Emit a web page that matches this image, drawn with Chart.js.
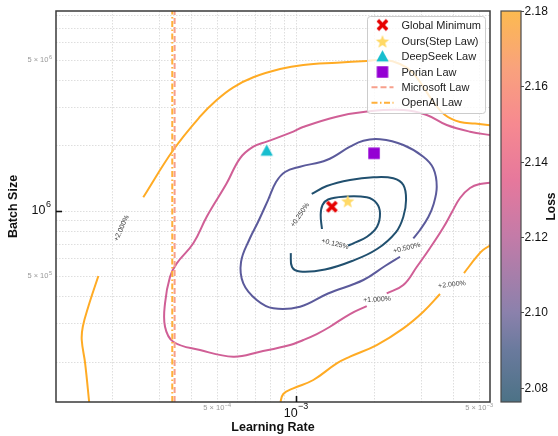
<!DOCTYPE html>
<html>
<head>
<meta charset="utf-8">
<script src="https://cdn.jsdelivr.net/npm/chart.js@4.4.1/dist/chart.umd.min.js"></script>
<style>
  html, body { margin: 0; padding: 0; background: #fff; }
  #wrap { width: 558px; height: 436px; }
</style>
</head>
<body>
<div id="wrap"><canvas id="chart" width="558" height="436"></canvas></div>
<script>
// ---------- axis ranges ----------
const lrRange = [1.213e-4, 5.5e-3];
const bsRange = [1.306e5, 8.43e6];
const lossRange = [2.0762, 2.18];
const lossTicks = [2.08, 2.10, 2.12, 2.14, 2.16, 2.18];

// ---------- tick labels ----------
const lrMajorTicks = [{ value: 1e-3, base: '10', exp: '−3' }];
const lrMinorTicks = [{ value: 5e-4, base: '5 × 10', exp: '−4' }, { value: 5e-3, base: '5 × 10', exp: '−3' }];
const bsMajorTicks = [{ value: 1e6, base: '10', exp: '6' }];
const bsMinorTicks = [{ value: 5e5, base: '5 × 10', exp: '5' }, { value: 5e6, base: '5 × 10', exp: '6' }];

// ---------- iso-loss contours: [learning rate, batch size] ----------
const contour0125 = [[1.256e-3,8.254e5],[1.242e-3,9.583e5],[1.262e-3,1.066e6],[1.325e-3,1.13e6],[1.515e-3,1.165e6],[1.862e-3,1.157e6],[2.032e-3,1.086e6],[2.092e-3,9.758e5],[2.038e-3,8.458e5],[1.866e-3,7.603e5],[1.655e-3,7.087e5],[1.58e-3,6.92e5]];
const contour0250 = [[1.148e-3,1.199e6],[1.31e-3,1.305e6],[1.607e-3,1.392e6],[1.972e-3,1.432e6],[2.351e-3,1.417e6],[2.568e-3,1.319e6],[2.63e-3,1.124e6],[2.568e-3,9.41e5],[2.408e-3,7.994e5],[2.038e-3,6.669e5],[1.636e-3,5.868e5],[1.29e-3,5.36e5],[1.036e-3,5.247e5],[9.654e-4,5.505e5],[9.546e-4,6.389e5]];
const contour0500 = [[2.803e-3,7.473e5],[2.973e-3,8.166e5],[3.199e-3,9.38e5],[3.342e-3,1.066e6],[3.444e-3,1.296e6],[3.342e-3,1.576e6],[3.061e-3,1.784e6],[2.568e-3,2.021e6],[2.092e-3,2.147e6],[1.807e-3,2.116e6],[1.607e-3,1.985e6],[1.31e-3,1.722e6],[1.036e-3,1.604e6],[9.08e-4,1.516e6],[8.388e-4,1.362e6],[7.818e-4,1.124e6],[7.161e-4,8.895e5],[6.675e-4,7.499e5],[6.166e-4,5.806e5],[6.292e-4,4.627e5],[7.079e-4,3.873e5],[8.192e-4,3.544e5],[1.036e-3,3.606e5],[1.325e-3,4.15e5],[1.807e-3,4.793e5],[2.186e-3,5.565e5],[2.494e-3,6.143e5]];
const contour1000a = [[5.6e-3,2.24e6],[4.614e-3,2.329e6],[3.76e-3,2.50e6],[3.154e-3,2.783e6],[2.568e-3,2.935e6],[1.866e-3,2.888e6],[1.43e-3,2.733e6],[1.063e-3,2.448e6],[9.76e-4,2.329e6],[7.73e-4,2.094e6],[6.871e-4,1.985e6],[6.113e-4,1.754e6],[5.437e-4,1.344e6],[4.562e-4,9.41e5],[4.055e-4,7.087e5],[3.505e-4,5.727e5],[3.304e-4,4.964e5],[3.162e-4,3.738e5],[3.162e-4,2.913e5],[3.40e-4,2.483e5],[4.30e-4,2.272e5],[5.764e-4,2.117e5],[7.289e-4,2.232e5],[9.49e-4,2.397e5],[1.066e-3,2.529e5],[1.2e-3,2.695e5],[1.348e-3,2.913e5],[1.607e-3,3.336e5],[1.862e-3,3.632e5]];
const contour1000b = [[2.219e-3,4.159e5],[2.568e-3,4.544e5],[2.888e-3,5.505e5],[3.247e-3,6.74e5],[3.64e-3,8.34e5],[3.938e-3,9.89e5],[4.227e-3,1.149e6],[4.614e-3,1.278e6],[5.04e-3,1.334e6],[5.6e-3,1.355e6]];
const contour2000a = [[1.626e-4,1.28e5],[1.567e-4,1.972e5],[1.521e-4,2.529e5],[1.535e-4,2.911e5],[1.611e-4,3.606e5],[1.76e-4,5.0e5]];
const contour2000b = [[2.612e-4,1.157e6],[3.40e-4,1.916e6],[4.30e-4,2.733e6],[4.98e-4,3.265e6],[5.764e-4,3.739e6],[6.871e-4,4.159e6],[8.69e-4,4.541e6],[1.066e-3,4.742e6],[1.43e-3,4.86e6],[1.862e-3,4.95e6],[2.186e-3,5.0e6],[2.494e-3,4.793e6],[2.771e-3,4.401e6],[3.027e-3,3.831e6],[3.304e-3,3.265e6],[3.704e-3,2.783e6],[4.227e-3,2.583e6],[4.823e-3,2.541e6],[5.6e-3,2.49e6]];
const contour2000c = [[8.69e-4,1.28e5],[8.94e-4,1.422e5],[9.76e-4,1.51e5],[1.164e-3,1.651e5],[1.43e-3,1.972e5],[1.607e-3,2.117e5],[2.032e-3,2.397e5],[2.568e-3,2.864e5],[3.061e-3,3.419e5],[3.545e-3,4.128e5]];
const contour2000d = [[4.377e-3,5.164e5],[4.896e-3,6.143e5],[5.173e-3,6.597e5],[5.6e-3,7.0e5]];

// contour level labels: text, learning rate, batch size, angle (deg)
const contourLabels = [
  ['+0.125%', 1.409e-3, 7.036e5, 14],
  ['+0.250%', 1.036e-3, 9.583e5, -55],
  ['+0.500%', 2.646e-3, 6.74e5, -14],
  ['+1.000%', 2.038e-3, 3.893e5, -3],
  ['+2.000%', 3.938e-3, 4.568e5, -6],
  ['+2.000%', 2.158e-4, 8.318e5, -66]
];

// ---------- predicted optima ----------
const globalMinimum = [1.37e-3, 1.047e6];
const stepLaw = [1.575e-3, 1.116e6];
const deepSeekLaw = [7.73e-4, 1.896e6];
const porianLaw = [1.985e-3, 1.85e6];
const microsoftLawLR = 3.44e-4;
const openAILawLR = 3.37e-4;

// ---------- styling ----------
const C_TEAL = '#21506f', C_PURPLE = '#5b5a9b', C_PINK = '#d05f96', C_ORANGE = '#ffab24';
const C_MS = '#f7a08c', C_OAI = '#ffb03a';
const FONT = '"Liberation Sans", Arial, sans-serif';

function markerCanvas(kind, size, color) {
  const s = Math.ceil(size + 4);
  const c = document.createElement('canvas');
  c.width = s; c.height = s;
  const g = c.getContext('2d');
  const m = s / 2, r = size / 2;
  g.fillStyle = color; g.strokeStyle = color;
  if (kind === 'x') {
    const k = r * 0.72;
    g.lineWidth = size * 0.28; g.lineCap = 'butt';
    g.beginPath();
    g.moveTo(m - k, m - k); g.lineTo(m + k, m + k);
    g.moveTo(m + k, m - k); g.lineTo(m - k, m + k);
    g.stroke();
  } else if (kind === 'star') {
    g.beginPath();
    for (let i = 0; i < 10; i++) {
      const rad = i % 2 ? r * 0.42 : r;
      const a = -Math.PI / 2 + i * Math.PI / 5;
      g.lineTo(m + rad * Math.cos(a), m + 1 + rad * Math.sin(a));
    }
    g.closePath(); g.fill();
  } else if (kind === 'tri') {
    g.beginPath();
    g.moveTo(m, m - r); g.lineTo(m + r * 0.95, m + r * 0.72); g.lineTo(m - r * 0.95, m + r * 0.72);
    g.closePath(); g.fill();
  } else {
    g.fillRect(m - r, m - r, 2 * r, 2 * r);
  }
  return c;
}

const mkX = markerCanvas('x', 13, '#e60000');
const mkStar = markerCanvas('star', 14, '#ffd966');
const mkTri = markerCanvas('tri', 13, '#17becf');
const mkSq = markerCanvas('sq', 11.5, '#9400d3');

const toXY = pts => pts.map(p => ({ x: p[0], y: p[1] }));

function contourSet(pts, color) {
  return { data: toXY(pts), showLine: true, borderColor: color, borderWidth: 2,
    pointRadius: 0, tension: 0.4, fill: false, order: 2 };
}
function markerSet(pt, img) {
  return { data: toXY([pt]), pointStyle: img, pointRadius: 6, showLine: false, order: 0 };
}
function lawSet(lr, color, dash) {
  return { data: toXY([[lr, bsRange[0]], [lr, bsRange[1]]]), showLine: true, borderColor: color,
    borderWidth: 2, borderDash: dash, pointRadius: 0, order: 1 };
}

const DASH_MS = [6, 3];
const DASH_OAI = [6, 2.5, 1.5, 2.5];

const datasets = [
  markerSet(globalMinimum, mkX),
  markerSet(stepLaw, mkStar),
  markerSet(deepSeekLaw, mkTri),
  markerSet(porianLaw, mkSq),
  lawSet(openAILawLR, C_OAI, DASH_OAI),
  lawSet(microsoftLawLR, C_MS, DASH_MS),
  contourSet(contour0125, C_TEAL),
  contourSet(contour0250, C_TEAL),
  contourSet(contour0500, C_PURPLE),
  contourSet(contour1000a, C_PINK),
  contourSet(contour1000b, C_PINK),
  contourSet(contour2000a, C_ORANGE),
  contourSet(contour2000b, C_ORANGE),
  contourSet(contour2000c, C_ORANGE),
  contourSet(contour2000d, C_ORANGE)
];

// grid values: every 1..9 x 10^k inside the range
function logGrid(lo, hi) {
  const out = [];
  for (let e = Math.floor(Math.log10(lo)); e <= Math.ceil(Math.log10(hi)); e++) {
    for (let m = 1; m < 10; m++) {
      const v = m * Math.pow(10, e);
      if (v > lo * 1.001 && v < hi * 0.999) out.push(v);
    }
  }
  return out;
}

const legendItems = [
  { label: 'Global Minimum', img: mkX },
  { label: 'Ours(Step Law)', img: mkStar },
  { label: 'DeepSeek Law', img: mkTri },
  { label: 'Porian Law', img: mkSq },
  { label: 'Microsoft Law', line: C_MS, dash: DASH_MS },
  { label: 'OpenAI Law', line: C_OAI, dash: DASH_OAI }
];

const cbStops = [
  [2.0762, '#4c7286'], [2.09, '#6a7a9d'], [2.10, '#8b81ac'], [2.12, '#c37ba8'],
  [2.135, '#e6789c'], [2.15, '#f68990'], [2.165, '#f9a27c'], [2.18, '#fcba50']
];

function drawSup(ctx, base, exp, x, y, align, baseSize, expSize, color, raise) {
  ctx.save();
  ctx.fillStyle = color;
  ctx.textBaseline = 'middle';
  ctx.textAlign = 'left';
  ctx.font = baseSize + 'px ' + FONT;
  const wb = ctx.measureText(base).width;
  ctx.font = expSize + 'px ' + FONT;
  const we = ctx.measureText(exp).width;
  const w = wb + we + 0.5;
  let x0 = x;
  if (align === 'center') x0 = x - w / 2;
  else if (align === 'right') x0 = x - w;
  ctx.font = baseSize + 'px ' + FONT;
  ctx.fillText(base, x0, y);
  ctx.font = expSize + 'px ' + FONT;
  ctx.fillText(exp, x0 + wb + 0.5, y - raise);
  ctx.restore();
}

const decor = {
  id: 'decor',
  beforeDraw(chart) {
    const ctx = chart.ctx;
    ctx.save();
    ctx.fillStyle = '#ffffff';
    ctx.fillRect(0, 0, chart.width, chart.height);
    ctx.restore();
  },
  afterDatasetsDraw(chart) {
    const ctx = chart.ctx;
    const a = chart.chartArea;
    const sx = chart.scales.x, sy = chart.scales.y, cb = chart.scales.cb;

    // contour level labels
    ctx.save();
    ctx.font = '7px ' + FONT;
    ctx.fillStyle = '#3a3a3a';
    ctx.textAlign = 'center';
    ctx.textBaseline = 'middle';
    contourLabels.forEach(([t, lr, bs, ang]) => {
      ctx.save();
      ctx.translate(sx.getPixelForValue(lr), sy.getPixelForValue(bs));
      ctx.rotate(ang * Math.PI / 180);
      ctx.fillText(t, 0, 0);
      ctx.restore();
    });
    ctx.restore();

    // frame
    ctx.save();
    ctx.strokeStyle = '#3a3a3a';
    ctx.lineWidth = 1.5;
    ctx.strokeRect(a.left, a.top, a.right - a.left, a.bottom - a.top);
    // inward major ticks
    ctx.strokeStyle = '#111';
    ctx.lineWidth = 1.6;
    lrMajorTicks.forEach(t => {
      const px = Math.round(sx.getPixelForValue(t.value)) + 0.5;
      ctx.beginPath(); ctx.moveTo(px, a.bottom); ctx.lineTo(px, a.bottom - 6); ctx.stroke();
    });
    bsMajorTicks.forEach(t => {
      const py = Math.round(sy.getPixelForValue(t.value)) + 0.5;
      ctx.beginPath(); ctx.moveTo(a.left, py); ctx.lineTo(a.left + 6, py); ctx.stroke();
    });
    ctx.restore();

    // tick labels
    lrMajorTicks.forEach(t => drawSup(ctx, t.base, t.exp, sx.getPixelForValue(t.value), a.bottom + 12, 'center', 12.5, 9, '#111', 7));
    lrMinorTicks.forEach(t => drawSup(ctx, t.base, t.exp, sx.getPixelForValue(t.value), a.bottom + 6, 'center', 7.5, 5.5, '#999', 3));
    bsMajorTicks.forEach(t => drawSup(ctx, t.base, t.exp, a.left - 5, sy.getPixelForValue(t.value), 'right', 12.5, 9, '#111', 6));
    bsMinorTicks.forEach(t => drawSup(ctx, t.base, t.exp, a.left - 4, sy.getPixelForValue(t.value), 'right', 7.5, 5.5, '#999', 3));

    // axis titles
    ctx.save();
    ctx.fillStyle = '#111';
    ctx.font = 'bold 12.5px ' + FONT;
    ctx.textAlign = 'center';
    ctx.textBaseline = 'middle';
    ctx.fillText('Learning Rate', (a.left + a.right) / 2, 428);
    ctx.translate(14, (a.top + a.bottom) / 2);
    ctx.rotate(-Math.PI / 2);
    ctx.fillText('Batch Size', 0, 0);
    ctx.restore();

    // colour bar
    const cbL = 501, cbR = 521;
    const yTop = cb.getPixelForValue(lossRange[1]);
    const yBot = cb.getPixelForValue(lossRange[0]);
    ctx.save();
    const grad = ctx.createLinearGradient(0, yBot, 0, yTop);
    cbStops.forEach(([v, col]) => grad.addColorStop((v - lossRange[0]) / (lossRange[1] - lossRange[0]), col));
    ctx.fillStyle = grad;
    ctx.fillRect(cbL, yTop, cbR - cbL, yBot - yTop);
    ctx.strokeStyle = '#4a4a4a';
    ctx.lineWidth = 1.2;
    ctx.strokeRect(cbL, yTop, cbR - cbL, yBot - yTop);
    ctx.fillStyle = '#111';
    ctx.font = '12px ' + FONT;
    ctx.textAlign = 'left';
    ctx.textBaseline = 'middle';
    ctx.lineWidth = 1;
    lossTicks.forEach(v => {
      const py = Math.round(cb.getPixelForValue(v)) + 0.5;
      ctx.beginPath(); ctx.moveTo(cbR, py); ctx.lineTo(cbR + 3, py); ctx.stroke();
      ctx.fillText(v.toFixed(2), cbR + 3.5, py);
    });
    ctx.font = 'bold 12px ' + FONT;
    ctx.textAlign = 'center';
    ctx.translate(552, (yTop + yBot) / 2);
    ctx.rotate(-Math.PI / 2);
    ctx.fillText('Loss', 0, 0);
    ctx.restore();
  },
  afterDraw(chart) {
    // legend box
    const ctx = chart.ctx;
    const bx = 367, by = 16, bw = 118, bh = 97;
    ctx.save();
    ctx.beginPath();
    ctx.roundRect(bx + 0.5, by + 0.5, bw, bh, 3);
    ctx.fillStyle = 'rgba(255,255,255,0.8)';
    ctx.fill();
    ctx.strokeStyle = '#cccccc';
    ctx.lineWidth = 1;
    ctx.stroke();
    ctx.font = '11px ' + FONT;
    ctx.fillStyle = '#222';
    ctx.textAlign = 'left';
    ctx.textBaseline = 'middle';
    const rows = [25, 41, 56.7, 72, 87.3, 102.7];
    legendItems.forEach((it, i) => {
      const y = rows[i];
      if (it.img) {
        ctx.drawImage(it.img, 382.5 - it.img.width / 2, y - it.img.height / 2);
      } else {
        ctx.save();
        ctx.strokeStyle = it.line;
        ctx.lineWidth = 2;
        ctx.setLineDash(it.dash);
        ctx.beginPath(); ctx.moveTo(371.5, y); ctx.lineTo(393.5, y); ctx.stroke();
        ctx.restore();
      }
      ctx.fillText(it.label, 401.5, y + 0.5);
    });
    ctx.restore();
  }
};

new Chart(document.getElementById('chart'), {
  type: 'scatter',
  data: { datasets },
  options: {
    responsive: false,
    animation: false,
    devicePixelRatio: 1,
    events: [],
    layout: { padding: { top: 11, right: 0, bottom: 0, left: 0 } },
    plugins: { legend: { display: false }, tooltip: { enabled: false } },
    scales: {
      x: {
        type: 'logarithmic', min: lrRange[0], max: lrRange[1],
        afterBuildTicks: s => { s.ticks = logGrid(lrRange[0], lrRange[1]).map(v => ({ value: v })); },
        afterFit: s => { s.height = 34; },
        ticks: { display: false },
        grid: { color: '#d6d6d6', lineWidth: 0.8, drawTicks: false },
        border: { display: false, dash: [1.5, 1.5] }
      },
      y: {
        type: 'logarithmic', min: bsRange[0], max: bsRange[1],
        afterBuildTicks: s => { s.ticks = logGrid(bsRange[0], bsRange[1]).map(v => ({ value: v })); },
        afterFit: s => { s.width = 56; },
        ticks: { display: false },
        grid: { color: '#d6d6d6', lineWidth: 0.8, drawTicks: false },
        border: { display: false, dash: [1.5, 1.5] }
      },
      cb: {
        type: 'linear', position: 'right', min: lossRange[0], max: lossRange[1],
        afterBuildTicks: s => { s.ticks = lossTicks.map(v => ({ value: v })); },
        afterFit: s => { s.width = 68; },
        ticks: { display: false },
        grid: { display: false, drawTicks: false },
        border: { display: false }
      }
    }
  },
  plugins: [decor]
});
</script>
</body>
</html>
